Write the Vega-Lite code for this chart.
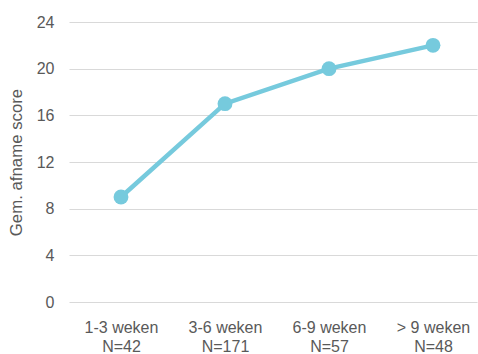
{
  "$schema": "https://vega.github.io/schema/vega-lite/v6.json",
  "autosize": "none",
  "padding": {"left": 69, "top": 22, "right": 1, "bottom": 52},
  "width": 408,
  "height": 280,
  "config": {
    "view": {"stroke": null},
    "font": "Liberation Sans",
    "axis": {
      "labelFont": "Liberation Sans",
      "titleFont": "Liberation Sans",
      "labelColor": "#595959",
      "titleColor": "#595959",
      "labelFontSize": 16,
      "titleFontSize": 16.8,
      "titleFontWeight": "normal",
      "gridColor": "#D9D9D9",
      "gridWidth": 1,
      "ticks": false,
      "domain": false
    }
  },
  "data": {
    "values": [
      {"periode": "1-3 weken|N=42", "score": 9},
      {"periode": "3-6 weken|N=171", "score": 17},
      {"periode": "6-9 weken|N=57", "score": 20},
      {"periode": "> 9 weken|N=48", "score": 22}
    ]
  },
  "encoding": {
    "x": {
      "field": "periode",
      "type": "ordinal",
      "sort": null,
      "scale": {"type": "point", "padding": 0.4615, "align": 0.5417},
      "axis": {
        "title": null,
        "labelAngle": 0,
        "labelPadding": 17,
        "labelLineHeight": 19,
        "labelExpr": "split(datum.value, '|')",
        "grid": false
      }
    },
    "y": {
      "field": "score",
      "type": "quantitative",
      "scale": {"domain": [0, 24], "nice": false},
      "axis": {
        "title": "Gem. afname score",
        "values": [0, 4, 8, 12, 16, 20, 24],
        "labelPadding": 15,
        "titlePadding": 11,
        "grid": true
      }
    }
  },
  "layer": [
    {"mark": {"type": "line", "color": "#76CADD", "strokeWidth": 4.5}},
    {"mark": {"type": "point", "filled": true, "opacity": 1, "color": "#76CADD", "size": 220}}
  ]
}
